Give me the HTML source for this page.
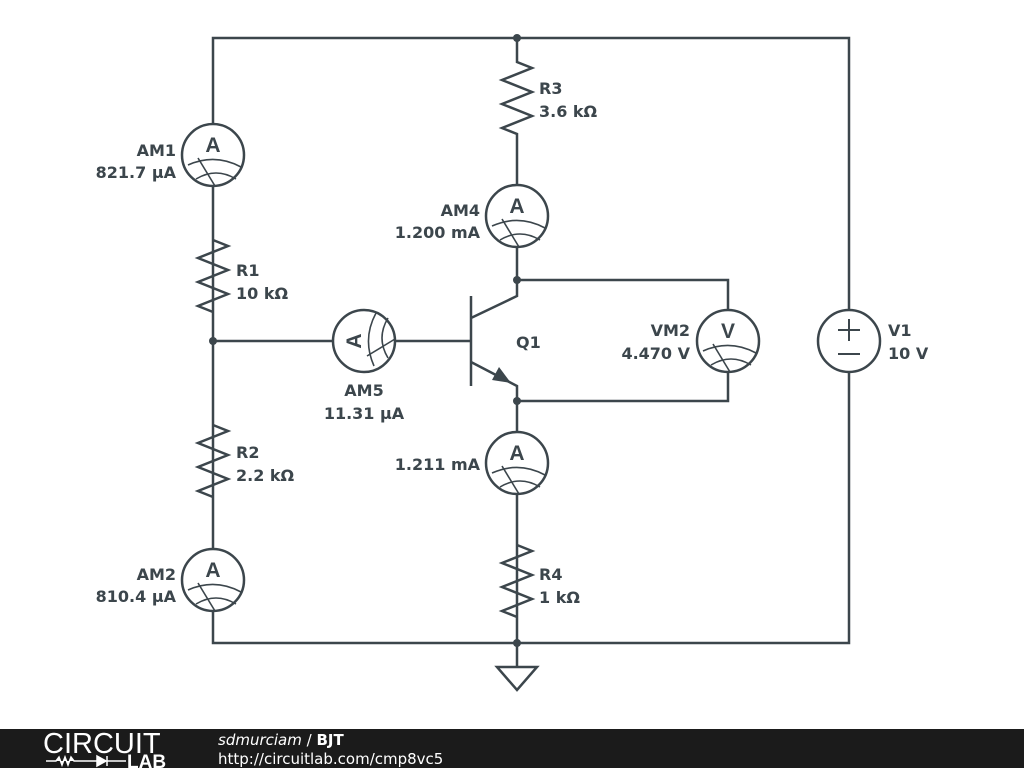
<!DOCTYPE html>
<html><head><style>
html,body{margin:0;padding:0;background:#fff;width:1024px;height:768px;overflow:hidden}
svg{display:block}
text{font-family:"DejaVu Sans","Liberation Sans",sans-serif;font-weight:bold;fill:#3c464c;font-size:16px}
text.L{font-family:"Liberation Sans",sans-serif;font-size:21px;font-weight:bold}
</style></head><body>
<svg width="1024" height="768" viewBox="0 0 1024 768">
<defs>
<g id="m">
<circle cx="0" cy="0" r="31" fill="#fff" stroke="#3c464c" stroke-width="2.5"/>
<path d="M-25,10 Q2,-2 28,12 M-17,24 Q3,12 23,24 M-15,3 L2,31" fill="none" stroke="#3c464c" stroke-width="1.6"/>
</g>
</defs>
<g fill="none" stroke="#3c464c" stroke-width="2.5" stroke-linejoin="miter">
<path d="M213,38 H849 V643 H213 Z"/>
<path d="M517,38 V62 L532,68 L502,80 L532,92 L502,104 L532,116 L502,128 L517,134 V280 H728 V401 H517"/>
<path d="M517,280 V296 L471,318 M471,296 V386 M471,362 L517,386 V643"/>
<path d="M213,240 L228,246 L198,258 L228,270 L198,282 L228,294 L198,306 L213,312"/>
<path d="M213,425 L228,431 L198,443 L228,455 L198,467 L228,479 L198,491 L213,497"/>
<path d="M517,545 L532,551 L502,563 L532,575 L502,587 L532,599 L502,611 L517,617"/>
<path d="M213,341 H471"/>
<path d="M517,643 V667 M497,667 H537 L517,690 Z"/>
</g>
<path d="M511,383 L492,380 L499,367 Z" fill="#3c464c"/>
<g fill="#3c464c">
<circle cx="517" cy="38" r="4"/><circle cx="517" cy="280" r="4"/><circle cx="517" cy="401" r="4"/>
<circle cx="213" cy="341" r="4"/><circle cx="517" cy="643" r="4"/>
</g>
<g transform="translate(213,155)"><use href="#m"/><text class="L" x="0" y="-3" text-anchor="middle">A</text></g>
<g transform="translate(213,580)"><use href="#m"/><text class="L" x="0" y="-3" text-anchor="middle">A</text></g>
<g transform="translate(517,216)"><use href="#m"/><text class="L" x="0" y="-3" text-anchor="middle">A</text></g>
<g transform="translate(517,463)"><use href="#m"/><text class="L" x="0" y="-3" text-anchor="middle">A</text></g>
<g transform="translate(728,341)"><use href="#m"/><text class="L" x="0" y="-3" text-anchor="middle">V</text></g>
<g transform="translate(364,341) rotate(-90)"><use href="#m"/><text class="L" x="0" y="-3" text-anchor="middle">A</text></g>
<circle cx="849" cy="341" r="31" fill="#fff" stroke="#3c464c" stroke-width="2.5"/>
<path d="M838,330 H860 M849,319 V341 M838,354 H860" stroke="#3c464c" stroke-width="2"/>
<text x="176" y="156" text-anchor="end">AM1</text><text x="176" y="178" text-anchor="end">821.7 µA</text>
<text x="236" y="276">R1</text><text x="236" y="299">10 kΩ</text>
<text x="236" y="458">R2</text><text x="236" y="481">2.2 kΩ</text>
<text x="176" y="580" text-anchor="end">AM2</text><text x="176" y="602" text-anchor="end">810.4 µA</text>
<text x="539" y="94">R3</text><text x="539" y="117">3.6 kΩ</text>
<text x="480" y="216" text-anchor="end">AM4</text><text x="480" y="238" text-anchor="end">1.200 mA</text>
<text x="364" y="396" text-anchor="middle">AM5</text><text x="364" y="419" text-anchor="middle">11.31 µA</text>
<text x="516" y="348">Q1</text>
<text x="690" y="336" text-anchor="end">VM2</text><text x="690" y="359" text-anchor="end">4.470 V</text>
<text x="888" y="336">V1</text><text x="888" y="359">10 V</text>
<text x="480" y="470" text-anchor="end">1.211 mA</text>
<text x="539" y="580">R4</text><text x="539" y="603">1 kΩ</text>
<rect x="0" y="729" width="1024" height="39" fill="#1b1b1b"/>
<text x="43" y="753" style="font-family:'Liberation Sans',sans-serif;font-weight:normal;font-size:29px;fill:#fff">CIRCUIT</text>
<path d="M46,761 H56 L59,757 L62,765 L65,757 L68,765 L71,757 L74,761 H97 M97,756 V766 L106,761 Z M107,756 V766 M107,761 H126" stroke="#fff" stroke-width="1.5" fill="#fff"/>
<text x="127" y="768" style="font-family:'Liberation Sans',sans-serif;font-size:19px;font-weight:bold;fill:#fff">LAB</text>
<text x="218" y="745" style="font-size:15px;fill:#fff;font-weight:normal;font-style:italic">sdmurciam <tspan font-style="normal">/</tspan> <tspan font-weight="bold" font-style="normal">BJT</tspan></text>
<text x="218" y="764" style="font-size:15px;fill:#fff;font-weight:normal">http://circuitlab.com/cmp8vc5</text>
</svg>
</body></html>
